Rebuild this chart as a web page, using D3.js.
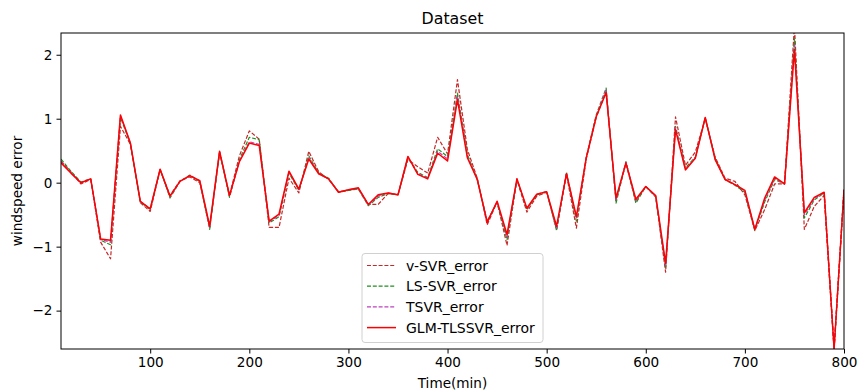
<!DOCTYPE html>
<html>
<head>
<meta charset="utf-8">
<script src="https://cdn.jsdelivr.net/npm/d3@7/dist/d3.min.js"></script>
<style>
  html, body { margin: 0; padding: 0; background: #fff; }
  svg { display: block; font-family: "DejaVu Sans", sans-serif; }
</style>
</head>
<body>
<svg id="chart" width="858" height="392"></svg>
<script>
// Time axis (minutes)
const timeMin = [10,20,30,40,50,60,70,80,90,100,110,120,130,140,150,160,170,180,190,200,
  210,220,230,240,250,260,270,280,290,300,310,320,330,340,350,360,370,380,390,400,
  410,420,430,440,450,460,470,480,490,500,510,520,530,540,550,560,570,580,590,600,
  610,620,630,640,650,660,670,680,690,700,710,720,730,740,750,760,770,780,790,800];

// Prediction errors of each model
const vSVR = [0.34,0.17,-0.02,0.05,-0.93,-1.19,0.88,0.60,-0.31,-0.45,0.20,-0.20,0.03,0.09,0.00,-0.70,0.47,-0.20,0.42,0.81,
  0.68,-0.70,-0.70,0.07,-0.16,0.49,0.17,0.05,-0.14,-0.12,-0.09,-0.34,-0.34,-0.17,-0.19,0.36,0.25,0.15,0.71,0.45,
  1.61,0.52,0.07,-0.66,-0.30,-0.98,0.05,-0.46,-0.21,-0.15,-0.73,0.13,-0.71,0.38,1.02,1.43,-0.28,0.30,-0.30,-0.06,
  -0.22,-1.40,1.03,0.27,0.48,1.00,0.40,0.07,0.02,-0.19,-0.75,-0.42,-0.02,-0.02,2.45,-0.73,-0.37,-0.20,-2.60,-0.11];

const lsSVR = [0.37,0.18,0.01,0.06,-0.90,-0.97,1.02,0.61,-0.30,-0.42,0.21,-0.24,0.02,0.12,0.02,-0.73,0.48,-0.23,0.36,0.71,
  0.67,-0.63,-0.53,0.15,-0.12,0.42,0.15,0.07,-0.15,-0.12,-0.10,-0.36,-0.23,-0.17,-0.19,0.39,0.16,0.08,0.53,0.41,
  1.40,0.44,0.05,-0.60,-0.31,-0.89,0.05,-0.42,-0.19,-0.14,-0.75,0.16,-0.60,0.40,1.06,1.48,-0.32,0.33,-0.32,-0.06,
  -0.22,-1.33,0.88,0.23,0.40,1.01,0.38,0.05,-0.04,-0.15,-0.74,-0.30,0.05,-0.02,2.25,-0.55,-0.27,-0.16,-2.60,-0.11];

const tSVR = [0.33,0.16,0.00,0.06,-0.89,-0.93,1.04,0.62,-0.29,-0.41,0.21,-0.22,0.02,0.11,0.03,-0.70,0.49,-0.21,0.34,0.64,
  0.60,-0.61,-0.51,0.17,-0.11,0.39,0.14,0.06,-0.15,-0.11,-0.09,-0.35,-0.21,-0.16,-0.19,0.40,0.14,0.07,0.49,0.37,
  1.35,0.41,0.05,-0.61,-0.30,-0.85,0.06,-0.41,-0.18,-0.14,-0.71,0.15,-0.56,0.39,1.04,1.45,-0.27,0.32,-0.28,-0.06,
  -0.21,-1.30,0.86,0.21,0.39,1.02,0.37,0.05,-0.03,-0.13,-0.73,-0.27,0.07,-0.02,2.15,-0.50,-0.25,-0.15,-2.60,-0.11];

const glmTLSSVR = [0.31,0.15,0.00,0.06,-0.88,-0.90,1.06,0.62,-0.29,-0.41,0.21,-0.21,0.02,0.11,0.03,-0.68,0.49,-0.20,0.33,0.62,
  0.58,-0.60,-0.49,0.18,-0.10,0.37,0.14,0.06,-0.15,-0.11,-0.08,-0.34,-0.19,-0.16,-0.19,0.41,0.13,0.06,0.46,0.34,
  1.30,0.39,0.05,-0.62,-0.29,-0.81,0.06,-0.40,-0.18,-0.14,-0.68,0.14,-0.53,0.39,1.03,1.41,-0.24,0.31,-0.26,-0.06,
  -0.20,-1.26,0.83,0.20,0.38,1.02,0.36,0.05,-0.03,-0.12,-0.73,-0.24,0.09,-0.02,2.08,-0.47,-0.23,-0.15,-2.60,-0.11];

const xTicks = [100,200,300,400,500,600,700,800];
const yTicks = [2,1,0,-1,-2];

const seriesNames = ["v-SVR_error", "LS-SVR_error", "TSVR_error", "GLM-TLSSVR_error"];
const seriesValues = [vSVR, lsSVR, tSVR, glmTLSSVR];
const seriesColors = ["#c62828", "#1f8f1f", "#bf40bf", "#ff0000"];
const seriesDashed = [true, true, true, false];

const svg = d3.select("#chart");
const margin = {left: 61, right: 14, top: 33, bottom: 43};
const W = 858, H = 392;
const x0 = margin.left, x1 = W - margin.right, y0 = margin.top, y1 = H - margin.bottom;

const x = d3.scaleLinear().domain([10, 800]).range([x0, x1]);
const y = d3.scaleLinear().domain([-2.6, 2.34]).range([y1, y0]);

svg.append("defs").append("clipPath").attr("id", "plotclip")
  .append("rect").attr("x", x0).attr("y", y0).attr("width", x1 - x0).attr("height", y1 - y0);

// lines
const plot = svg.append("g").attr("clip-path", "url(#plotclip)");
seriesValues.forEach((vals, i) => {
  const line = d3.line().x((d, j) => x(timeMin[j])).y(d => y(d));
  plot.append("path")
    .datum(vals)
    .attr("d", line)
    .attr("fill", "none")
    .attr("stroke", seriesColors[i])
    .attr("stroke-width", seriesDashed[i] ? 1.2 : 1.5)
    .attr("stroke-dasharray", seriesDashed[i] ? "4,1.8" : null)
    .attr("stroke-linejoin", "round");
});

// axes
const fmt = d => d < 0 ? "\u2212" + Math.abs(d) : String(d);
const xAxis = svg.append("g").attr("transform", `translate(0,${y1})`)
  .call(d3.axisBottom(x).tickValues(xTicks).tickSize(4.5).tickPadding(4).tickFormat(fmt));
const yAxis = svg.append("g").attr("transform", `translate(${x0},0)`)
  .call(d3.axisLeft(y).tickValues(yTicks).tickSize(4.5).tickPadding(4).tickFormat(fmt));
[xAxis, yAxis].forEach(a => {
  a.select(".domain").remove();
  a.selectAll("line").attr("stroke", "#000").attr("stroke-width", 1);
  a.selectAll("text").attr("font-size", 13.6).attr("fill", "#000").attr("font-family", "DejaVu Sans");
});

// frame
svg.append("rect").attr("x", x0).attr("y", y0).attr("width", x1 - x0).attr("height", y1 - y0)
  .attr("fill", "none").attr("stroke", "#000").attr("stroke-width", 1);

// titles
svg.append("text").attr("x", (x0 + x1) / 2).attr("y", 24).attr("text-anchor", "middle")
  .attr("font-size", 15.8).text("Dataset");
svg.append("text").attr("x", (x0 + x1) / 2).attr("y", 388).attr("text-anchor", "middle")
  .attr("font-size", 13.6).text("Time(min)");
svg.append("text").attr("transform", `translate(22,${(y0 + y1) / 2}) rotate(-90)`)
  .attr("text-anchor", "middle").attr("font-size", 13.6).text("windspeed error");

// legend
const lg = svg.append("g");
lg.append("rect").attr("x", 362).attr("y", 253.5).attr("width", 181).attr("height", 89)
  .attr("rx", 3).attr("fill", "#fff").attr("fill-opacity", 0.85)
  .attr("stroke", "#d0d0d0").attr("stroke-width", 1);
seriesNames.forEach((name, i) => {
  const cy = 265.5 + i * 20.7;
  lg.append("line").attr("x1", 367).attr("x2", 396).attr("y1", cy).attr("y2", cy)
    .attr("stroke", seriesColors[i]).attr("stroke-width", seriesDashed[i] ? 1.2 : 1.5)
    .attr("stroke-dasharray", seriesDashed[i] ? "4,1.8" : null);
  lg.append("text").attr("x", 406).attr("y", cy + 5).attr("font-size", 14).text(name);
});
</script>
</body>
</html>
